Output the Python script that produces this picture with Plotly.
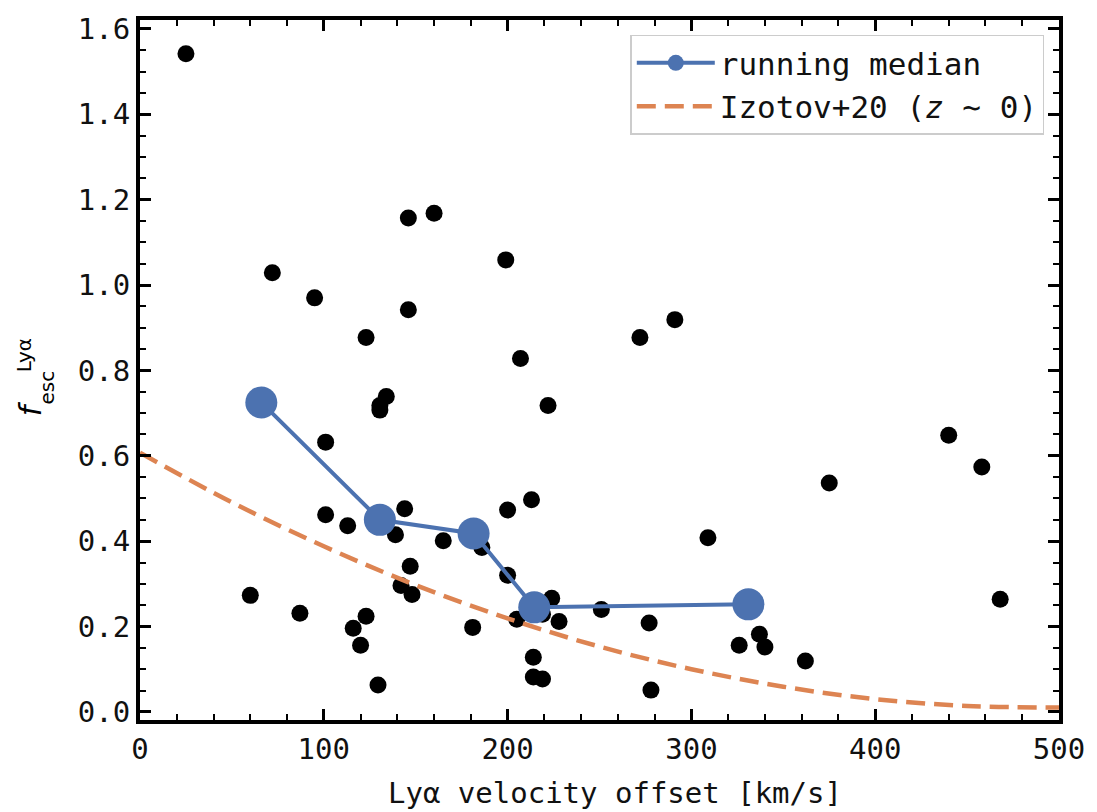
import plotly.graph_objects as go

# scatter data: Lya velocity offset [km/s] and Lya escape fraction
vel = [25, 72, 95, 146, 160, 199, 123, 146, 207, 222, 272, 291, 134, 130.5, 130.5,
       101, 101, 113, 144, 139, 165, 186, 200, 213, 200, 147, 142, 148, 60, 87,
       123, 116, 120, 129.5, 181, 224, 219, 228, 205, 214, 214, 219, 251, 277, 278,
       309, 326, 337, 340, 362, 375, 440, 458, 468, 211]
fesc = [1.542, 1.029, 0.970, 1.157, 1.168, 1.059, 0.877, 0.942, 0.828, 0.718, 0.877, 0.919, 0.739, 0.718, 0.707,
        0.632, 0.462, 0.436, 0.476, 0.415, 0.401, 0.385, 0.473, 0.497, 0.320, 0.341, 0.296, 0.275, 0.273, 0.231,
        0.224, 0.196, 0.156, 0.063, 0.198, 0.266, 0.229, 0.212, 0.217, 0.128, 0.082, 0.077, 0.240, 0.208, 0.051,
        0.408, 0.156, 0.182, 0.152, 0.119, 0.536, 0.648, 0.574, 0.264, 0.250]

# running median
med_vel = [66, 130.5, 181.5, 214.5, 331]
med_fesc = [0.725, 0.450, 0.418, 0.245, 0.252]

# Izotov+20 (z~0) relation
iz_vel = [0, 50, 100, 150, 200, 250, 300, 350, 400, 450, 500]
iz_fesc = [0.607, 0.491, 0.388, 0.297, 0.219, 0.153, 0.100, 0.059, 0.030, 0.014, 0.010]

x_ticks = [0, 100, 200, 300, 400, 500]
y_ticks = [0.0, 0.2, 0.4, 0.6, 0.8, 1.0, 1.2, 1.4, 1.6]

BLUE = "#4C72B0"
ORANGE = "#DD8452"
FONT = "DejaVu Sans Mono"

fig = go.Figure()
fig.add_trace(go.Scatter(x=vel, y=fesc, mode="markers",
                         marker=dict(color="black", size=17, line=dict(width=0)),
                         showlegend=False, hoverinfo="x+y"))
fig.add_trace(go.Scatter(x=iz_vel, y=iz_fesc, mode="lines", name="Izotov+20 (<i>z</i> ∼ 0)",
                         line=dict(color=ORANGE, width=4.5, dash="19px,9px", shape="spline")))
fig.add_trace(go.Scatter(x=med_vel, y=med_fesc, mode="lines+markers", name="running median",
                         line=dict(color=BLUE, width=4),
                         marker=dict(color=BLUE, size=32, line=dict(width=0))))

axis_common = dict(
    showline=True, linecolor="black", linewidth=4, mirror="allticks",
    ticks="inside", ticklen=11, tickwidth=3, tickcolor="black",
    showgrid=False, zeroline=False,
    tickfont=dict(family=FONT, size=29, color="#111111"),
)

fig.update_xaxes(range=[0, 500], tickvals=x_ticks,
                 minor=dict(dtick=20, ticks="inside", ticklen=6, tickwidth=2, tickcolor="black", showgrid=False),
                 **axis_common)
fig.update_yaxes(range=[-0.019, 1.621], tickvals=y_ticks, tickformat=".1f",
                 minor=dict(dtick=0.05, ticks="inside", ticklen=6, tickwidth=2, tickcolor="black", showgrid=False),
                 **axis_common)

# x-axis label
fig.add_annotation(text="Lyα velocity offset [km/s]", xref="paper", yref="paper", x=0.517, y=0,
                   yshift=-73, xanchor="center", yanchor="middle", showarrow=False,
                   font=dict(family=FONT, size=29, color="#111111"))

# y-axis label: f_esc^{Lya}
fig.add_annotation(text="<i>f</i>", xref="paper", yref="paper", x=0, y=0.444, xshift=-110,
                   xanchor="center", yanchor="middle",
                   showarrow=False, textangle=-90, font=dict(family="DejaVu Sans", size=30, color="black"))
fig.add_annotation(text="Lyα", xref="paper", yref="paper", x=0, y=0.521, xshift=-116,
                   xanchor="center", yanchor="middle",
                   showarrow=False, textangle=-90, font=dict(family="DejaVu Sans", size=20, color="black"))
fig.add_annotation(text="esc", xref="paper", yref="paper", x=0, y=0.475, xshift=-94,
                   xanchor="center", yanchor="middle",
                   showarrow=False, textangle=-90, font=dict(family="DejaVu Sans", size=20, color="black"))

fig.update_layout(
    width=1097, height=812,
    margin=dict(l=140, r=35, t=17, b=92),
    paper_bgcolor="white", plot_bgcolor="white",
    legend=dict(x=0.984, y=0.979, xanchor="right", yanchor="top",
                bgcolor="rgba(255,255,255,0.8)", bordercolor="#cccccc", borderwidth=1.5,
                font=dict(family=FONT, size=31, color="#111111"), traceorder="reversed",
                itemwidth=78, tracegroupgap=0),
    showlegend=True,
)

fig.write_html("out.html")
